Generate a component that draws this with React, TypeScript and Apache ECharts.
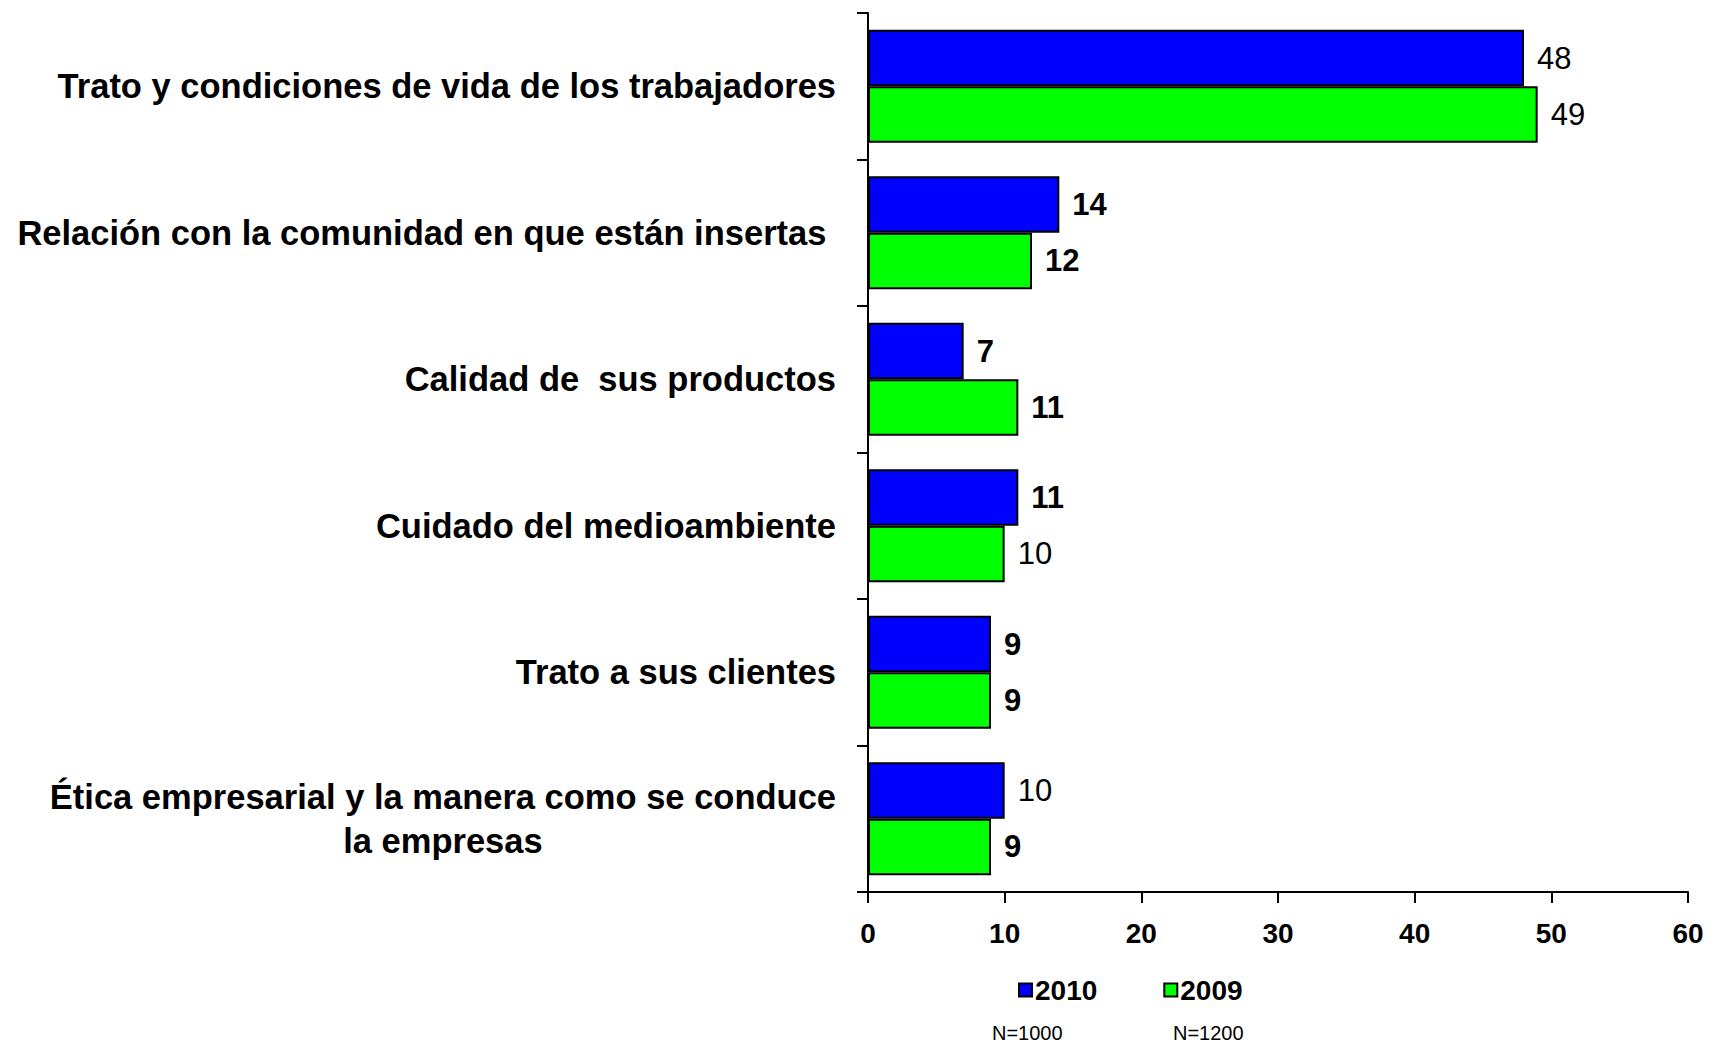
import React, { useEffect, useRef } from "react";
import * as echarts from "echarts";

const categories = [
  "Trato y condiciones de vida de los trabajadores",
  "Relación con la comunidad en que están insertas ",
  "Calidad de  sus productos",
  "Cuidado del medioambiente",
  "Trato a sus clientes",
  "Ética empresarial y la manera como se conduce\nla empresas",
];
const seriesNames = ["2010", "2009"];
const values2010 = [48, 14, 7, 11, 9, 10];
const values2009 = [49, 12, 11, 10, 9, 9];
const sampleSizes = ["N=1000", "N=1200"];
const xTicks = { min: 0, max: 60, interval: 10 };

// label weight look of the reference (style only)
const boldLabels2010 = [false, true, true, true, true, false];
const boldLabels2009 = [false, true, true, false, true, true];

const FONT = "'Liberation Sans', Arial, sans-serif";

export default function App() {
  const ref = useRef<HTMLDivElement>(null);
  useEffect(() => {
    document.body.style.margin = "0";
    const chart = echarts.init(ref.current!, undefined, { renderer: "svg" });
    const barStyle = (color: string) => ({
      color,
      borderColor: "#000",
      borderWidth: 2,
    });
    const valueLabel = (bolds: boolean[]) => ({
      show: true,
      position: "right",
      distance: 13,
      formatter: (p: any) => (bolds[p.dataIndex] ? `{b|${p.value}}` : `{n|${p.value}}`),
      rich: {
        n: { fontSize: 31, color: "#000", fontFamily: FONT },
        b: { fontSize: 31, fontWeight: "bold", color: "#000", fontFamily: FONT },
      },
    });
    chart.setOption({
      animation: false,
      backgroundColor: "#fff",
      textStyle: { fontFamily: FONT },
      grid: { left: 868, right: 22, top: 13, bottom: 153 },
      legend: {
        data: seriesNames,
        left: 1013,
        top: 971,
        itemWidth: 13,
        itemHeight: 13,
        itemGap: 66,
        icon: "rect",
        textStyle: { fontSize: 28, fontWeight: "bold", color: "#000", fontFamily: FONT, padding: [0, 0, 0, -2] },
      },
      xAxis: {
        type: "value",
        min: xTicks.min,
        max: xTicks.max,
        interval: xTicks.interval,
        splitLine: { show: false },
        axisLine: { show: true, lineStyle: { color: "#000", width: 2 } },
        axisTick: { show: true, length: 11, lineStyle: { color: "#000", width: 2 } },
        axisLabel: { margin: 27, fontSize: 28, fontWeight: "bold", color: "#000", fontFamily: FONT },
      },
      yAxis: {
        type: "category",
        inverse: true,
        data: categories,
        axisLine: { show: true, lineStyle: { color: "#000", width: 2 } },
        axisTick: { show: true, length: 11, lineStyle: { color: "#000", width: 2 } },
        axisLabel: {
          margin: 32,
          align: "right",
          formatter: (v: string) => v.split("\n").map((l) => `{c|${l}}`).join("\n"),
          rich: {
            c: { fontSize: 34.5, fontWeight: "bold", color: "#000", align: "center", lineHeight: 44, fontFamily: FONT },
          },
        },
      },
      series: [
        {
          name: seriesNames[0],
          type: "bar",
          data: values2010,
          barGap: "0%",
          barCategoryGap: "23%",
          itemStyle: barStyle("#0000FF"),
          label: valueLabel(boldLabels2010),
        },
        {
          name: seriesNames[1],
          type: "bar",
          data: values2009,
          barGap: "0%",
          barCategoryGap: "23%",
          itemStyle: barStyle("#00FF00"),
          label: valueLabel(boldLabels2009),
        },
      ],
      graphic: sampleSizes.map((t, i) => ({
        type: "text",
        x: 992 + i * 181,
        y: 1033,
        style: { text: t, fontSize: 20, fill: "#000", fontFamily: FONT, verticalAlign: "middle", align: "left" },
      })),
    });
    return () => chart.dispose();
  }, []);
  return <div ref={ref} style={{ width: 1710, height: 1045 }} />;
}
